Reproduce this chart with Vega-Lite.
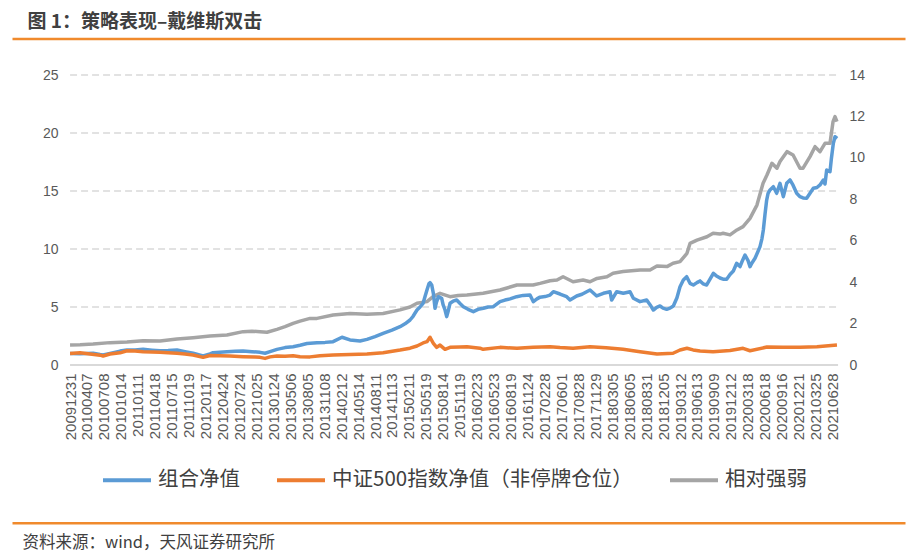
{
  "$schema": "https://vega.github.io/schema/vega-lite/v6.json",
  "width": 893,
  "height": 290,
  "autosize": {"type": "none"},
  "padding": {"left": 12, "top": 75, "right": 8, "bottom": 189},
  "background": "white",
  "config": {
    "view": {"stroke": null},
    "legend": {
      "orient": "none", "legendX": 89, "legendY": 379, "direction": "horizontal",
      "symbolType": "stroke", "symbolSize": 2304, "symbolStrokeWidth": 4,
      "labelFontSize": 20.5, "labelFont": "Noto Sans CJK SC", "labelColor": "#404040",
      "labelLimit": 400, "labelOffset": 5, "columnPadding": 29
    }
  },
  "datasets": {
    "grid": [{"y": 0}, {"y": 5}, {"y": 10}, {"y": 15}, {"y": 20}, {"y": 25}],
    "lines": [
      {"s":"组合净值","d":0,"v":1.00},{"s":"组合净值","d":36,"v":0.98},{"s":"组合净值","d":83,"v":1.01},{"s":"组合净值","d":108,"v":0.90},{"s":"组合净值","d":119,"v":0.86},{"s":"组合净值","d":144,"v":1.00},{"s":"组合净值","d":180,"v":1.20},{"s":"组合净值","d":205,"v":1.29},{"s":"组合净值","d":234,"v":1.30},{"s":"组合净值","d":263,"v":1.35},{"s":"组合净值","d":295,"v":1.28},{"s":"组合净值","d":324,"v":1.23},{"s":"组合净值","d":353,"v":1.25},{"s":"组合净值","d":385,"v":1.29},{"s":"组合净值","d":414,"v":1.15},{"s":"组合净值","d":443,"v":1.01},{"s":"组合净值","d":479,"v":0.78},{"s":"组合净值","d":504,"v":0.95},{"s":"组合净值","d":515,"v":1.06},{"s":"组合净值","d":540,"v":1.10},{"s":"组合净值","d":565,"v":1.15},{"s":"组合净值","d":594,"v":1.18},{"s":"组合净值","d":623,"v":1.21},{"s":"组合净值","d":655,"v":1.15},{"s":"组合净值","d":684,"v":1.09},{"s":"组合净值","d":702,"v":1.01},{"s":"组合净值","d":720,"v":1.15},{"s":"组合净值","d":745,"v":1.35},{"s":"组合净值","d":774,"v":1.50},{"s":"组合净值","d":803,"v":1.58},{"s":"组合净值","d":828,"v":1.70},{"s":"组合净值","d":853,"v":1.85},{"s":"组合净值","d":889,"v":1.92},{"s":"组合净值","d":918,"v":1.95},{"s":"组合净值","d":947,"v":2.01},{"s":"组合净值","d":979,"v":2.39},{"s":"组合净值","d":1008,"v":2.16},{"s":"组合净值","d":1044,"v":2.07},{"s":"组合净值","d":1069,"v":2.21},{"s":"组合净值","d":1098,"v":2.45},{"s":"组合净值","d":1127,"v":2.73},{"s":"组合净值","d":1159,"v":3.00},{"s":"组合净值","d":1188,"v":3.30},{"s":"组合净值","d":1206,"v":3.55},{"s":"组合净值","d":1224,"v":3.88},{"s":"组合净值","d":1235,"v":4.20},{"s":"组合净值","d":1249,"v":4.74},{"s":"组合净值","d":1260,"v":5.00},{"s":"组合净值","d":1271,"v":5.32},{"s":"组合净值","d":1278,"v":5.90},{"s":"组合净值","d":1285,"v":6.47},{"s":"组合净值","d":1292,"v":7.00},{"s":"组合净值","d":1296,"v":7.10},{"s":"组合净值","d":1302,"v":6.90},{"s":"组合净值","d":1308,"v":6.18},{"s":"组合净值","d":1314,"v":4.89},{"s":"组合净值","d":1319,"v":5.40},{"s":"组合净值","d":1326,"v":5.89},{"s":"组合净值","d":1338,"v":5.75},{"s":"组合净值","d":1343,"v":5.20},{"s":"组合净值","d":1350,"v":4.74},{"s":"组合净值","d":1356,"v":4.17},{"s":"组合净值","d":1361,"v":4.60},{"s":"组合净值","d":1368,"v":5.32},{"s":"组合净值","d":1379,"v":5.50},{"s":"组合净值","d":1392,"v":5.60},{"s":"组合净值","d":1404,"v":5.30},{"s":"组合净值","d":1416,"v":5.03},{"s":"组合净值","d":1433,"v":4.80},{"s":"组合净值","d":1452,"v":4.60},{"s":"组合净值","d":1469,"v":4.80},{"s":"组合净值","d":1488,"v":4.89},{"s":"组合净值","d":1505,"v":5.00},{"s":"组合净值","d":1524,"v":5.03},{"s":"组合净值","d":1548,"v":5.46},{"s":"组合净值","d":1566,"v":5.60},{"s":"组合净值","d":1584,"v":5.70},{"s":"组合净值","d":1608,"v":5.89},{"s":"组合净值","d":1631,"v":6.00},{"s":"组合净值","d":1656,"v":6.03},{"s":"组合净值","d":1668,"v":5.46},{"s":"组合净值","d":1681,"v":5.70},{"s":"组合净值","d":1692,"v":5.85},{"s":"组合净值","d":1710,"v":5.90},{"s":"组合净值","d":1728,"v":6.03},{"s":"组合净值","d":1740,"v":6.32},{"s":"组合净值","d":1764,"v":6.12},{"s":"组合净值","d":1788,"v":5.89},{"s":"组合净值","d":1800,"v":5.60},{"s":"组合净值","d":1824,"v":5.95},{"s":"组合净值","d":1843,"v":6.10},{"s":"组合净值","d":1860,"v":6.32},{"s":"组合净值","d":1872,"v":6.47},{"s":"组合净值","d":1896,"v":5.95},{"s":"组合净值","d":1920,"v":6.18},{"s":"组合净值","d":1944,"v":6.32},{"s":"组合净值","d":1950,"v":5.60},{"s":"组合净值","d":1968,"v":6.32},{"s":"组合净值","d":1992,"v":6.18},{"s":"组合净值","d":2016,"v":6.32},{"s":"组合净值","d":2028,"v":5.75},{"s":"组合净值","d":2052,"v":5.46},{"s":"组合净值","d":2076,"v":5.60},{"s":"组合净值","d":2088,"v":5.20},{"s":"组合净值","d":2100,"v":4.74},{"s":"组合净值","d":2112,"v":4.97},{"s":"组合净值","d":2124,"v":5.09},{"s":"组合净值","d":2135,"v":4.90},{"s":"组合净值","d":2148,"v":4.80},{"s":"组合净值","d":2160,"v":4.90},{"s":"组合净值","d":2172,"v":5.09},{"s":"组合净值","d":2185,"v":5.80},{"s":"组合净值","d":2196,"v":6.75},{"s":"组合净值","d":2208,"v":7.33},{"s":"组合净值","d":2220,"v":7.61},{"s":"组合净值","d":2232,"v":7.04},{"s":"组合净值","d":2244,"v":6.90},{"s":"组合净值","d":2257,"v":7.10},{"s":"组合净值","d":2268,"v":7.25},{"s":"组合净值","d":2279,"v":7.00},{"s":"组合净值","d":2292,"v":6.90},{"s":"组合净值","d":2304,"v":7.40},{"s":"组合净值","d":2316,"v":7.90},{"s":"组合净值","d":2326,"v":7.70},{"s":"组合净值","d":2340,"v":7.50},{"s":"组合净值","d":2351,"v":7.40},{"s":"组合净值","d":2364,"v":7.40},{"s":"组合净值","d":2376,"v":7.80},{"s":"组合净值","d":2388,"v":8.10},{"s":"组合净值","d":2400,"v":8.77},{"s":"组合净值","d":2412,"v":8.48},{"s":"组合净值","d":2419,"v":8.90},{"s":"组合净值","d":2430,"v":9.48},{"s":"组合净值","d":2441,"v":9.00},{"s":"组合净值","d":2448,"v":8.48},{"s":"组合净值","d":2455,"v":8.80},{"s":"组合净值","d":2466,"v":9.20},{"s":"组合净值","d":2477,"v":9.80},{"s":"组合净值","d":2484,"v":10.20},{"s":"组合净值","d":2491,"v":10.90},{"s":"组合净值","d":2496,"v":11.64},{"s":"组合净值","d":2502,"v":13.00},{"s":"组合净值","d":2508,"v":14.22},{"s":"组合净值","d":2513,"v":14.80},{"s":"组合净值","d":2520,"v":15.09},{"s":"组合净值","d":2532,"v":15.37},{"s":"组合净值","d":2544,"v":14.80},{"s":"组合净值","d":2556,"v":15.66},{"s":"组合净值","d":2568,"v":14.51},{"s":"组合净值","d":2580,"v":15.66},{"s":"组合净值","d":2592,"v":15.95},{"s":"组合净值","d":2603,"v":15.50},{"s":"组合净值","d":2616,"v":14.80},{"s":"组合净值","d":2628,"v":14.51},{"s":"组合净值","d":2639,"v":14.40},{"s":"组合净值","d":2652,"v":14.37},{"s":"组合净值","d":2664,"v":14.80},{"s":"组合净值","d":2676,"v":15.23},{"s":"组合净值","d":2689,"v":15.30},{"s":"组合净值","d":2700,"v":15.52},{"s":"组合净值","d":2712,"v":15.95},{"s":"组合净值","d":2718,"v":15.60},{"s":"组合净值","d":2724,"v":16.81},{"s":"组合净值","d":2736,"v":16.67},{"s":"组合净值","d":2741,"v":17.80},{"s":"组合净值","d":2748,"v":19.11},{"s":"组合净值","d":2754,"v":19.68},{"s":"组合净值","d":2762,"v":19.54},
      {"s":"中证500指数净值（非停牌仓位）","d":0,"v":1.00},{"s":"中证500指数净值（非停牌仓位）","d":36,"v":1.05},{"s":"中证500指数净值（非停牌仓位）","d":72,"v":0.95},{"s":"中证500指数净值（非停牌仓位）","d":108,"v":0.85},{"s":"中证500指数净值（非停牌仓位）","d":119,"v":0.78},{"s":"中证500指数净值（非停牌仓位）","d":144,"v":0.95},{"s":"中证500指数净值（非停牌仓位）","d":180,"v":1.05},{"s":"中证500指数净值（非停牌仓位）","d":205,"v":1.23},{"s":"中证500指数净值（非停牌仓位）","d":234,"v":1.20},{"s":"中证500指数净值（非停牌仓位）","d":263,"v":1.15},{"s":"中证500指数净值（非停牌仓位）","d":295,"v":1.12},{"s":"中证500指数净值（非停牌仓位）","d":324,"v":1.09},{"s":"中证500指数净值（非停牌仓位）","d":353,"v":1.05},{"s":"中证500指数净值（非停牌仓位）","d":385,"v":1.01},{"s":"中证500指数净值（非停牌仓位）","d":414,"v":0.95},{"s":"中证500指数净值（非停牌仓位）","d":443,"v":0.86},{"s":"中证500指数净值（非停牌仓位）","d":479,"v":0.66},{"s":"中证500指数净值（非停牌仓位）","d":504,"v":0.82},{"s":"中证500指数净值（非停牌仓位）","d":540,"v":0.80},{"s":"中证500指数净值（非停牌仓位）","d":576,"v":0.78},{"s":"中证500指数净值（非停牌仓位）","d":623,"v":0.72},{"s":"中证500指数净值（非停牌仓位）","d":666,"v":0.68},{"s":"中证500指数净值（非停牌仓位）","d":684,"v":0.66},{"s":"中证500指数净值（非停牌仓位）","d":702,"v":0.57},{"s":"中证500指数净值（非停牌仓位）","d":720,"v":0.70},{"s":"中证500指数净值（非停牌仓位）","d":745,"v":0.78},{"s":"中证500指数净值（非停牌仓位）","d":774,"v":0.76},{"s":"中证500指数净值（非停牌仓位）","d":803,"v":0.80},{"s":"中证500指数净值（非停牌仓位）","d":828,"v":0.72},{"s":"中证500指数净值（非停牌仓位）","d":864,"v":0.70},{"s":"中证500指数净值（非停牌仓位）","d":900,"v":0.80},{"s":"中证500指数净值（非停牌仓位）","d":947,"v":0.86},{"s":"中证500指数净值（非停牌仓位）","d":1008,"v":0.90},{"s":"中证500指数净值（非停牌仓位）","d":1069,"v":0.95},{"s":"中证500指数净值（非停牌仓位）","d":1127,"v":1.06},{"s":"中证500指数净值（非停牌仓位）","d":1188,"v":1.29},{"s":"中证500指数净值（非停牌仓位）","d":1224,"v":1.45},{"s":"中证500指数净值（非停牌仓位）","d":1249,"v":1.64},{"s":"中证500指数净值（非停牌仓位）","d":1271,"v":1.90},{"s":"中证500指数净值（非停牌仓位）","d":1285,"v":2.01},{"s":"中证500指数净值（非停牌仓位）","d":1296,"v":2.39},{"s":"中证500指数净值（非停牌仓位）","d":1300,"v":2.20},{"s":"中证500指数净值（非停牌仓位）","d":1308,"v":1.87},{"s":"中证500指数净值（非停牌仓位）","d":1320,"v":1.52},{"s":"中证500指数净值（非停牌仓位）","d":1332,"v":1.72},{"s":"中证500指数净值（非停牌仓位）","d":1350,"v":1.35},{"s":"中证500指数净值（非停牌仓位）","d":1368,"v":1.52},{"s":"中证500指数净值（非停牌仓位）","d":1404,"v":1.55},{"s":"中证500指数净值（非停牌仓位）","d":1429,"v":1.58},{"s":"中证500指数净值（非停牌仓位）","d":1476,"v":1.45},{"s":"中证500指数净值（非停牌仓位）","d":1487,"v":1.35},{"s":"中证500指数净值（非停牌仓位）","d":1548,"v":1.52},{"s":"中证500指数净值（非停牌仓位）","d":1609,"v":1.44},{"s":"中证500指数净值（非停牌仓位）","d":1667,"v":1.52},{"s":"中证500指数净值（非停牌仓位）","d":1728,"v":1.58},{"s":"中证500指数净值（非停牌仓位）","d":1764,"v":1.50},{"s":"中证500指数净值（非停牌仓位）","d":1811,"v":1.44},{"s":"中证500指数净值（非停牌仓位）","d":1872,"v":1.58},{"s":"中证500指数净值（非停牌仓位）","d":1930,"v":1.49},{"s":"中证500指数净值（非停牌仓位）","d":1991,"v":1.35},{"s":"中证500指数净值（非停牌仓位）","d":2052,"v":1.15},{"s":"中证500指数净值（非停牌仓位）","d":2113,"v":0.95},{"s":"中证500指数净值（非停牌仓位）","d":2171,"v":1.01},{"s":"中证500指数净值（非停牌仓位）","d":2196,"v":1.29},{"s":"中证500指数净值（非停牌仓位）","d":2221,"v":1.44},{"s":"中证500指数净值（非停牌仓位）","d":2243,"v":1.30},{"s":"中证500指数净值（非停牌仓位）","d":2268,"v":1.20},{"s":"中证500指数净值（非停牌仓位）","d":2315,"v":1.15},{"s":"中证500指数净值（非停牌仓位）","d":2376,"v":1.25},{"s":"中证500指数净值（非停牌仓位）","d":2423,"v":1.44},{"s":"中证500指数净值（非停牌仓位）","d":2448,"v":1.23},{"s":"中证500指数净值（非停牌仓位）","d":2509,"v":1.55},{"s":"中证500指数净值（非停牌仓位）","d":2567,"v":1.52},{"s":"中证500指数净值（非停牌仓位）","d":2628,"v":1.52},{"s":"中证500指数净值（非停牌仓位）","d":2689,"v":1.58},{"s":"中证500指数净值（非停牌仓位）","d":2761,"v":1.72},
      {"s":"相对强弱","d":0,"v":0.97},{"s":"相对强弱","d":36,"v":0.98},{"s":"相对强弱","d":83,"v":1.01},{"s":"相对强弱","d":144,"v":1.08},{"s":"相对强弱","d":205,"v":1.11},{"s":"相对强弱","d":263,"v":1.17},{"s":"相对强弱","d":324,"v":1.16},{"s":"相对强弱","d":385,"v":1.26},{"s":"相对强弱","d":443,"v":1.32},{"s":"相对强弱","d":504,"v":1.40},{"s":"相对强弱","d":565,"v":1.45},{"s":"相对强弱","d":623,"v":1.61},{"s":"相对强弱","d":655,"v":1.63},{"s":"相对强弱","d":684,"v":1.61},{"s":"相对强弱","d":709,"v":1.58},{"s":"相对强弱","d":745,"v":1.72},{"s":"相对强弱","d":774,"v":1.85},{"s":"相对强弱","d":803,"v":2.01},{"s":"相对强弱","d":828,"v":2.12},{"s":"相对强弱","d":864,"v":2.25},{"s":"相对强弱","d":889,"v":2.25},{"s":"相对强弱","d":947,"v":2.41},{"s":"相对强弱","d":1008,"v":2.49},{"s":"相对强弱","d":1069,"v":2.45},{"s":"相对强弱","d":1127,"v":2.49},{"s":"相对强弱","d":1188,"v":2.66},{"s":"相对强弱","d":1224,"v":2.80},{"s":"相对强弱","d":1249,"v":2.98},{"s":"相对强弱","d":1285,"v":3.06},{"s":"相对强弱","d":1307,"v":3.30},{"s":"相对强弱","d":1332,"v":3.46},{"s":"相对强弱","d":1368,"v":3.30},{"s":"相对强弱","d":1397,"v":3.35},{"s":"相对强弱","d":1429,"v":3.38},{"s":"相对强弱","d":1487,"v":3.46},{"s":"相对强弱","d":1548,"v":3.62},{"s":"相对强弱","d":1609,"v":3.86},{"s":"相对强弱","d":1667,"v":3.86},{"s":"相对强弱","d":1692,"v":3.94},{"s":"相对强弱","d":1728,"v":4.07},{"s":"相对强弱","d":1753,"v":4.10},{"s":"相对强弱","d":1775,"v":4.26},{"s":"相对强弱","d":1811,"v":4.02},{"s":"相对强弱","d":1847,"v":4.10},{"s":"相对强弱","d":1872,"v":4.02},{"s":"相对强弱","d":1897,"v":4.18},{"s":"相对强弱","d":1933,"v":4.26},{"s":"相对强弱","d":1955,"v":4.43},{"s":"相对强弱","d":1991,"v":4.51},{"s":"相对强弱","d":2052,"v":4.59},{"s":"相对强弱","d":2088,"v":4.59},{"s":"相对强弱","d":2113,"v":4.78},{"s":"相对强弱","d":2149,"v":4.75},{"s":"相对强弱","d":2171,"v":4.91},{"s":"相对强弱","d":2196,"v":4.99},{"s":"相对强弱","d":2221,"v":5.39},{"s":"相对强弱","d":2232,"v":5.87},{"s":"相对强弱","d":2257,"v":6.03},{"s":"相对强弱","d":2293,"v":6.19},{"s":"相对强弱","d":2315,"v":6.36},{"s":"相对强弱","d":2340,"v":6.32},{"s":"相对强弱","d":2351,"v":6.36},{"s":"相对强弱","d":2376,"v":6.28},{"s":"相对强弱","d":2401,"v":6.52},{"s":"相对强弱","d":2423,"v":6.68},{"s":"相对强弱","d":2448,"v":7.08},{"s":"相对强弱","d":2473,"v":7.72},{"s":"相对强弱","d":2495,"v":8.77},{"s":"相对强弱","d":2509,"v":9.17},{"s":"相对强弱","d":2527,"v":9.74},{"s":"相对强弱","d":2545,"v":9.50},{"s":"相对强弱","d":2556,"v":9.82},{"s":"相对强弱","d":2581,"v":10.30},{"s":"相对强弱","d":2603,"v":10.14},{"s":"相对强弱","d":2628,"v":9.50},{"s":"相对强弱","d":2639,"v":9.50},{"s":"相对强弱","d":2664,"v":10.06},{"s":"相对强弱","d":2682,"v":10.54},{"s":"相对强弱","d":2700,"v":10.30},{"s":"相对强弱","d":2718,"v":10.70},{"s":"相对强弱","d":2736,"v":10.70},{"s":"相对强弱","d":2747,"v":11.75},{"s":"相对强弱","d":2754,"v":11.99},{"s":"相对强弱","d":2761,"v":11.75}
    ]
  },
  "layer": [
    {
      "data": {"name": "grid"},
      "mark": {"type": "rule", "color": "#d9d9d9"},
      "encoding": {
        "x": {"datum": 0, "type": "quantitative",
          "scale": {"domain": [-209, 3006], "nice": false, "zero": false},
          "axis": {"orient": "bottom", "offset": 157.7, "domain": true, "domainColor": "#f08a2c", "domainWidth": 2.5,
            "labels": false, "ticks": false, "grid": false,
            "title": "资料来源：wind，天风证券研究所", "titleX": 10, "titleY": 19.5, "titleAlign": "left", "titleAnchor": "start",
            "titleBaseline": "middle", "titleFont": "Noto Sans CJK SC", "titleFontSize": 16.5, "titleFontWeight": "normal", "titleColor": "#404040"}},
        "x2": {"datum": 2765},
        "y": {"field": "y", "type": "quantitative", "scale": {"domain": [0, 25], "nice": false}, "axis": null},
        "strokeDash": {"condition": {"test": "datum.y == 0", "value": [1, 0]}, "value": [7, 4]},
        "strokeWidth": {"condition": {"test": "datum.y == 0", "value": 2}, "value": 1.5}
      }
    },
    {
      "data": {"name": "lines"},
      "transform": [{"filter": "datum.s == '相对强弱'"}],
      "mark": {"type": "line", "strokeWidth": 3.5, "strokeJoin": "round"},
      "encoding": {
        "x": {"field": "d", "type": "quantitative",
          "scale": {"domain": [-209, 3006], "nice": false, "zero": false},
          "axis": {"orient": "top", "offset": 36.5, "domain": true, "domainColor": "#f08a2c", "domainWidth": 2.5,
            "labels": false, "ticks": false, "grid": false,
            "title": "图 1：策略表现–戴维斯双击", "titleX": 15, "titleY": -17.5, "titleAlign": "left", "titleAnchor": "start",
            "titleBaseline": "middle", "titleFont": "Noto Sans CJK SC", "titleFontSize": 19, "titleFontWeight": "bold", "titleColor": "#404040"}},
        "y": {"field": "v", "type": "quantitative", "scale": {"domain": [0, 14], "nice": false},
          "axis": {"orient": "right", "offset": -67, "values": [0, 2, 4, 6, 8, 10, 12, 14], "domain": false, "ticks": false, "grid": false,
            "labelPadding": 11, "labelFont": "Liberation Sans", "labelFontSize": 14, "labelColor": "#595959", "title": null}},
        "color": {"field": "s", "type": "nominal",
          "scale": {"domain": ["组合净值", "中证500指数净值（非停牌仓位）", "相对强弱"], "range": ["#5b9bd5", "#ed7d31", "#a5a5a5"]},
          "legend": {"title": null}}
      }
    },
    {
      "data": {"name": "lines"},
      "transform": [{"filter": "datum.s != '相对强弱'"}],
      "mark": {"type": "line", "strokeWidth": 3.5, "strokeJoin": "round"},
      "encoding": {
        "x": {"field": "d", "type": "quantitative",
          "scale": {"domain": [-209, 3006], "nice": false, "zero": false},
          "axis": {"orient": "bottom", "values": [0,61,122,183,244,305,366,427,488,549,610,671,732,793,854,915,976,1037,1098,1159,1220,1281,1342,1403,1464,1525,1586,1647,1708,1769,1830,1891,1952,2013,2074,2135,2196,2257,2318,2379,2440,2501,2562,2623,2684,2745],
            "labelExpr": "['20091231','20100407','20100708','20101014','20110111','20110418','20110715','20111019','20120117','20120424','20120724','20121025','20130124','20130506','20130805','20131108','20140212','20140514','20140811','20141113','20150211','20150519','20150814','20151119','20160223','20160523','20160819','20161124','20170228','20170601','20170828','20171129','20180305','20180605','20180831','20181205','20190312','20190613','20190909','20191212','20200318','20200618','20200916','20201221','20210325','20210628'][round(datum.value / 61)]",
            "labelAngle": -90, "labelPadding": 8, "labelOverlap": false, "labelBound": false,
            "labelFont": "Liberation Sans", "labelFontSize": 15, "labelColor": "#595959",
            "domain": false, "ticks": false, "grid": false, "title": null}},
        "y": {"field": "v", "type": "quantitative", "scale": {"domain": [0, 25], "nice": false},
          "axis": {"orient": "left", "offset": -58, "values": [0, 5, 10, 15, 20, 25], "domain": false, "ticks": false, "grid": false,
            "labelPadding": 12, "labelFont": "Liberation Sans", "labelFontSize": 14, "labelColor": "#595959", "title": null}},
        "color": {"field": "s", "type": "nominal",
          "scale": {"domain": ["组合净值", "中证500指数净值（非停牌仓位）", "相对强弱"], "range": ["#5b9bd5", "#ed7d31", "#a5a5a5"]},
          "legend": {"title": null}}
      }
    }
  ],
  "resolve": {"scale": {"y": "independent"}, "axis": {"x": "independent", "y": "independent"}}
}
